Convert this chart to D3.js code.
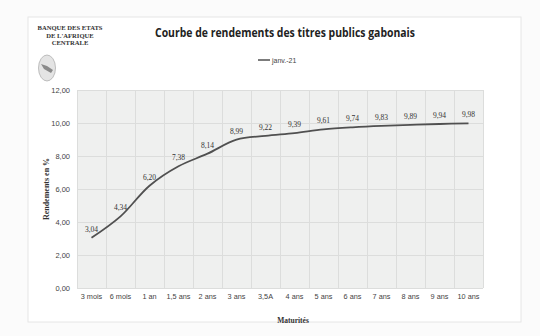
<!DOCTYPE html>
<html>
<head>
<meta charset="utf-8">
<script src="https://cdn.jsdelivr.net/npm/d3@7"></script>
<style>
  body { margin: 0; background: #fbfbfb; }
  svg { display: block; }
</style>
</head>
<body>
<div id="chart"></div>
<script>
// maturities and yields (janv.-21)
var maturites = ["3 mois", "6 mois", "1 an", "1,5 ans", "2 ans", "3 ans", "3,5A", "4 ans", "5 ans", "6 ans", "7 ans", "8 ans", "9 ans", "10 ans"];
var rendements = [3.04, 4.34, 6.20, 7.38, 8.14, 8.99, 9.22, 9.39, 9.61, 9.74, 9.83, 9.89, 9.94, 9.98];
var yTicks = [0, 2, 4, 6, 8, 10, 12];
var serieNom = "janv.-21";

var W = 540, H = 336;
var plot = {left: 77, right: 483, top: 90, bottom: 288};

var svg = d3.select("#chart").append("svg")
  .attr("width", W)
  .attr("height", H);

// faint outer frame of the chart object
svg.append("rect")
  .attr("x", 28).attr("y", 17)
  .attr("width", 493).attr("height", 305)
  .attr("fill", "#fff")
  .attr("stroke", "#e6e6e6");

var x = d3.scaleBand()
  .domain(maturites)
  .range([plot.left, plot.right]);

var y = d3.scaleLinear()
  .domain([0, 12])
  .range([plot.bottom, plot.top]);

var fmt = function (v) { return d3.format(".2f")(v).replace(".", ","); };

// plot area
svg.append("rect")
  .attr("x", plot.left).attr("y", plot.top)
  .attr("width", plot.right - plot.left).attr("height", plot.bottom - plot.top)
  .attr("fill", "#eff0ef");

// horizontal grid
svg.append("g").selectAll("line")
  .data(yTicks)
  .enter().append("line")
  .attr("x1", plot.left).attr("x2", plot.right)
  .attr("y1", function (d) { return y(d) + 0.5; })
  .attr("y2", function (d) { return y(d) + 0.5; })
  .attr("stroke", "#dcdddc");

// vertical grid at band edges
var edges = maturites.map(function (m) { return x(m); }).concat([plot.right]);
svg.append("g").selectAll("line")
  .data(edges)
  .enter().append("line")
  .attr("x1", function (d) { return Math.round(d) + 0.5; })
  .attr("x2", function (d) { return Math.round(d) + 0.5; })
  .attr("y1", plot.top).attr("y2", plot.bottom)
  .attr("stroke", "#dcdddc");

// y axis labels
var yAxis = d3.axisLeft(y).tickValues(yTicks).tickFormat(fmt).tickSize(0).tickPadding(7);
var gy = svg.append("g")
  .attr("transform", "translate(" + plot.left + ",0)")
  .call(yAxis);
gy.select(".domain").remove();
gy.selectAll("text")
  .attr("font-family", "Liberation Sans, Arial, sans-serif")
  .attr("font-size", 7.5)
  .attr("fill", "#444");

// x axis labels
var xAxis = d3.axisBottom(x).tickSize(0).tickPadding(6);
var gx = svg.append("g")
  .attr("transform", "translate(0," + plot.bottom + ")")
  .call(xAxis);
gx.select(".domain").remove();
gx.selectAll("text")
  .attr("font-family", "Liberation Sans, Arial, sans-serif")
  .attr("font-size", 7.3)
  .attr("fill", "#444");

// curve
var line = d3.line()
  .x(function (d, i) { return x(maturites[i]) + x.bandwidth() / 2; })
  .y(function (d) { return y(d); })
  .curve(d3.curveCatmullRom.alpha(0.5));

svg.append("path")
  .datum(rendements)
  .attr("d", line)
  .attr("fill", "none")
  .attr("stroke", "#505050")
  .attr("stroke-width", 1.8);

// data labels
svg.append("g").selectAll("text")
  .data(rendements)
  .enter().append("text")
  .attr("x", function (d, i) { return x(maturites[i]) + x.bandwidth() / 2; })
  .attr("y", function (d) { return y(d) - 6; })
  .attr("text-anchor", "middle")
  .attr("font-family", "Liberation Serif, Times New Roman, serif")
  .attr("font-size", 7.5)
  .attr("fill", "#333")
  .text(fmt);

// title
svg.append("text")
  .attr("x", 285).attr("y", 37)
  .attr("text-anchor", "middle")
  .attr("font-family", "Open Sans, sans-serif")
  .attr("font-weight", "bold")
  .attr("font-size", 12.5)
  .attr("textLength", 260)
  .attr("lengthAdjust", "spacingAndGlyphs")
  .attr("fill", "#222")
  .text("Courbe de rendements des titres publics gabonais");

// legend
svg.append("line")
  .attr("x1", 258).attr("x2", 270)
  .attr("y1", 60).attr("y2", 60)
  .attr("stroke", "#505050").attr("stroke-width", 1.5);
svg.append("text")
  .attr("x", 272).attr("y", 62.5)
  .attr("font-family", "Liberation Sans, Arial, sans-serif")
  .attr("font-size", 7)
  .attr("fill", "#444")
  .text(serieNom);

// institution header
var bank = ["BANQUE DES ETATS", "DE L'AFRIQUE", "CENTRALE"];
svg.append("g").selectAll("text")
  .data(bank)
  .enter().append("text")
  .attr("x", 70)
  .attr("y", function (d, i) { return 30 + i * 7.5; })
  .attr("text-anchor", "middle")
  .attr("font-family", "Liberation Serif, Times New Roman, serif")
  .attr("font-weight", "bold")
  .attr("font-size", 6.6)
  .attr("fill", "#333")
  .text(function (d) { return d; });

// logo
svg.append("ellipse")
  .attr("cx", 47).attr("cy", 68)
  .attr("rx", 8.5).attr("ry", 13)
  .attr("fill", "#e4e4e4")
  .attr("stroke", "#b0b0b0")
  .attr("stroke-width", 0.8);
svg.append("path")
  .attr("d", "M41,64 L47,66 L53,70 L51,73 L44,69 Z")
  .attr("fill", "#8a8a8a");

// axis titles
svg.append("text")
  .attr("transform", "translate(49," + ((plot.top + plot.bottom) / 2) + ") rotate(-90)")
  .attr("text-anchor", "middle")
  .attr("font-family", "Liberation Serif, Times New Roman, serif")
  .attr("font-weight", "bold")
  .attr("font-size", 8)
  .attr("fill", "#333")
  .text("Rendements en %");

svg.append("text")
  .attr("x", 293).attr("y", 323)
  .attr("text-anchor", "middle")
  .attr("font-family", "Liberation Serif, Times New Roman, serif")
  .attr("font-weight", "bold")
  .attr("font-size", 7.5)
  .attr("fill", "#333")
  .text("Maturités");
</script>
</body>
</html>
